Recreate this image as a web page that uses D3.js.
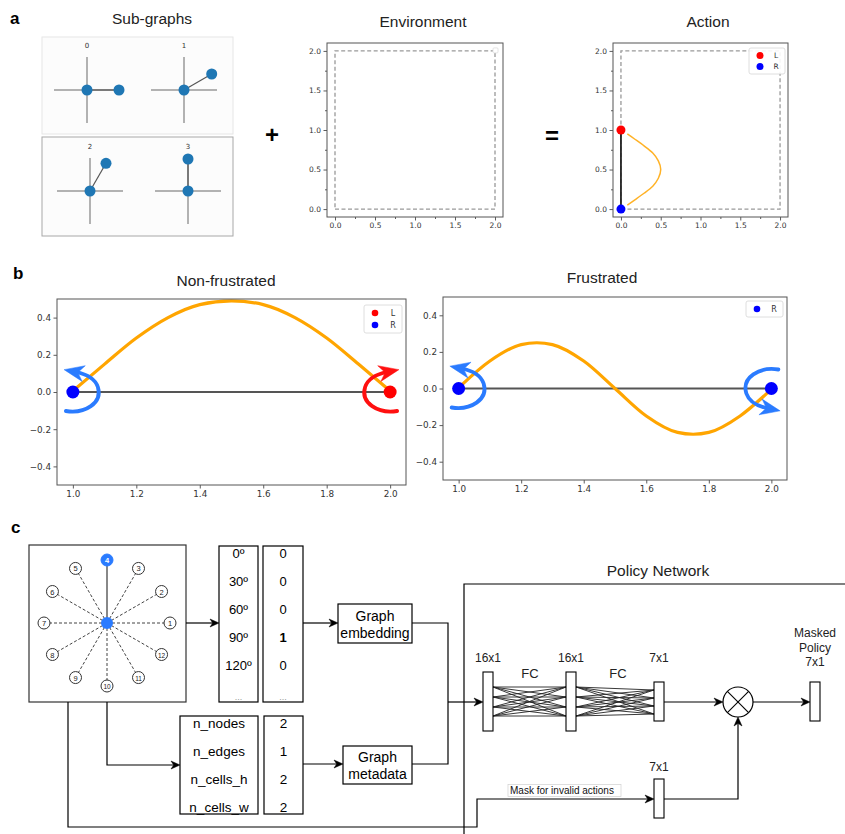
<!DOCTYPE html>
<html><head><meta charset="utf-8">
<script src="https://cdn.jsdelivr.net/npm/d3@7"></script>
<style>body{margin:0;background:#fff}svg{display:block}</style>
</head><body><svg id="fig" width="845" height="834"></svg>
<script>
// ---------------- DATA ----------------
// panel a
const subgraphIds = ["0", "1", "2", "3"];
const subgraphAngles = [0, 30, 60, 90];          // direction of the second node (deg)
const gridTicks = [0, 0.5, 1.0, 1.5, 2.0];
const gridMinorTicks = [0.25, 0.75, 1.25, 1.75];
const envBoundX = [0, 2, 2, 0, 0];
const envBoundY = [0, 0, 2, 2, 0];
const actionEdgeX = [0, 0];
const actionEdgeY = [0, 1];
const actionNodeLabels = ["L", "R"];
const actionNodeX = [0, 0];
const actionNodeY = [1, 0];
const actionCurveX = [0.08, 0.18, 0.29, 0.40, 0.47, 0.50, 0.47, 0.40, 0.29, 0.18, 0.08];
const actionCurveY = [0.95, 0.88, 0.80, 0.71, 0.61, 0.50, 0.39, 0.29, 0.20, 0.12, 0.05];
// panel b
const bTicksX = [1.0, 1.2, 1.4, 1.6, 1.8, 2.0];
const bTicksY = [-0.4, -0.2, 0.0, 0.2, 0.4];
const bEdgeX = [1, 2];
const bEdgeY = [0, 0];
const nfCurveX = [1.01, 1.1, 1.2, 1.3, 1.4, 1.5, 1.6, 1.7, 1.8, 1.9, 1.99];
const nfCurveY = [0.02, 0.15, 0.29, 0.40, 0.47, 0.49, 0.47, 0.40, 0.29, 0.15, 0.02];
const nfNodeLabels = ["R", "L"];
const nfNodeX = [1, 2];
const frCurveX = [1.01, 1.1, 1.2, 1.25, 1.3, 1.4, 1.5, 1.6, 1.7, 1.75, 1.8, 1.9, 1.99];
const frCurveY = [0.02, 0.15, 0.24, 0.25, 0.24, 0.15, 0.0, -0.15, -0.24, -0.25, -0.24, -0.15, -0.02];
const frNodeLabels = ["R", "R"];
const frNodeX = [1, 2];
// panel c
const dialLabels = ["1","2","3","4","5","6","7","8","9","10","11","12"];
const dialAngles = [0, 30, 60, 90, 120, 150, 180, 210, 240, 270, 300, 330];
const activeDial = "4";
const angleLabels = ["0º", "30º", "60º", "90º", "120º", "..."];
const angleValues = ["0", "0", "0", "1", "0", "..."];
const metaLabels = ["n_nodes", "n_edges", "n_cells_h", "n_cells_w"];
const metaValues = ["2", "1", "2", "2"];
const layerNames = ["16x1", "16x1", "7x1"];

// ---------------- HELPERS ----------------
const svg = d3.select("#fig");
svg.append("rect").attr("width", 845).attr("height", 834).attr("fill", "#fff");
const SANS = "'Liberation Sans', Arial, sans-serif";
const MPL = "'DejaVu Sans', sans-serif";
const colorOf = {L: "#ff0000", R: "#0000ff"};

function txt(g, x, y, s, o = {}) {
  return g.append("text").attr("x", x).attr("y", y).text(s)
    .attr("font-family", o.family || SANS).attr("font-size", o.size || 13)
    .attr("font-weight", o.weight || "normal").attr("fill", o.fill || "#000")
    .attr("text-anchor", o.anchor || "middle")
    .attr("dominant-baseline", o.baseline || "auto");
}

function mplAxes(box, xdom, ydom, xt, yt, fs, minor) {
  const g = svg.append("g");
  const x = d3.scaleLinear().domain(xdom).range([box.x0, box.x1]);
  const y = d3.scaleLinear().domain(ydom).range([box.y1, box.y0]);
  g.append("rect").attr("x", box.x0).attr("y", box.y0)
    .attr("width", box.x1 - box.x0).attr("height", box.y1 - box.y0).attr("fill", "#fff");
  const fmt = d3.format(".1f");
  const style = a => {
    a.select(".domain").remove();
    a.attr("font-family", MPL).attr("font-size", fs);
    a.selectAll("text").attr("fill", "#333");
    a.selectAll("line").attr("stroke", "#333").attr("stroke-width", 0.8);
  };
  g.append("g").attr("transform", `translate(0,${box.y1})`)
    .call(d3.axisBottom(x).tickValues(xt).tickFormat(fmt).tickSize(3.5).tickPadding(2.5)).call(style);
  g.append("g").attr("transform", `translate(${box.x0},0)`)
    .call(d3.axisLeft(y).tickValues(yt).tickFormat(fmt).tickSize(3.5).tickPadding(2.5)).call(style);
  if (minor) {
    g.append("g").attr("transform", `translate(0,${box.y1})`)
      .call(d3.axisBottom(x).tickValues(minor).tickFormat("").tickSize(2)).call(style);
    g.append("g").attr("transform", `translate(${box.x0},0)`)
      .call(d3.axisLeft(y).tickValues(minor).tickFormat("").tickSize(2)).call(style);
  }
  const content = g.append("g");
  const frame = () => g.append("rect").attr("x", box.x0).attr("y", box.y0)
    .attr("width", box.x1 - box.x0).attr("height", box.y1 - box.y0)
    .attr("fill", "none").attr("stroke", "#555").attr("stroke-width", 1);
  return {x, y, g: content, frame};
}

function legend(x0, y0, w, labels, fs, rowH, mr) {
  const g = svg.append("g");
  g.append("rect").attr("x", x0).attr("y", y0).attr("width", w)
    .attr("height", labels.length * rowH + 4).attr("rx", 2)
    .attr("fill", "#fff").attr("fill-opacity", 0.9).attr("stroke", "#d5d5d5").attr("stroke-width", 0.8);
  labels.forEach((l, i) => {
    const cy = y0 + 2 + rowH * (i + 0.5);
    g.append("circle").attr("cx", x0 + 11).attr("cy", cy).attr("r", mr).attr("fill", colorOf[l]);
    txt(g, x0 + w - 9, cy, l, {family: MPL, size: fs, fill: "#333", baseline: "central"});
  });
}

function arrowHead(g, tip, ux, uy, len, hw, color) {
  const bx = tip[0] - ux * len, by = tip[1] - uy * len;
  const nx = tip[0] - ux * len * 0.7, ny = tip[1] - uy * len * 0.7;
  g.append("polygon").attr("points", [
    [tip[0], tip[1]], [bx - uy * hw, by + ux * hw], [nx, ny], [bx + uy * hw, by - ux * hw]
  ].map(p => p.join(",")).join(" ")).attr("fill", color).attr("stroke", color).attr("stroke-width", 0.5);
}

function arrowLine(g, pts, head = true) {
  const n = pts.length;
  let line = pts;
  if (head) {
    const a = pts[n - 2], b = pts[n - 1];
    const L = Math.hypot(b[0] - a[0], b[1] - a[1]);
    const ux = (b[0] - a[0]) / L, uy = (b[1] - a[1]) / L;
    line = pts.slice(0, -1).concat([[b[0] - ux * 6, b[1] - uy * 6]]);
    arrowHead(g, b, ux, uy, 9, 4, "#000");
  }
  g.append("path").attr("d", d3.line()(line)).attr("fill", "none")
    .attr("stroke", "#000").attr("stroke-width", 1.2);
}

// curly rotation arrow around a node (pixel offsets, mirrored by sx, sy)
function curlyArrow(g, cx, cy, sx, sy, color) {
  const P = (dx, dy) => [cx + dx * sx, cy + dy * sy];
  const p0 = P(-7, 19), c1 = P(12, 22), c2 = P(30, 11), p1 = P(25, -5), c3 = P(22, -14), c4 = P(13, -18), p2 = P(3, -20);
  const path = d3.path();
  path.moveTo(...p0); path.bezierCurveTo(...c1, ...c2, ...p1); path.bezierCurveTo(...c3, ...c4, ...p2);
  g.append("path").attr("d", path.toString()).attr("fill", "none")
    .attr("stroke", color).attr("stroke-width", 3.8).attr("stroke-linecap", "round");
  let dx = (p2[0] - c4[0]), dy = (p2[1] - c4[1]);
  const L = Math.hypot(dx, dy); dx /= L; dy /= L;
  const tip = [p2[0] + dx * 12, p2[1] + dy * 12];
  arrowHead(g, tip, dx, dy, 20, 8, color);
}

// ---------------- PANEL a ----------------
txt(svg, 10, 24, "a", {size: 17, weight: "bold", anchor: "start"});
txt(svg, 152, 24, "Sub-graphs", {size: 15.5, fill: "#222"});
svg.append("rect").attr("x", 42).attr("y", 37).attr("width", 191).attr("height", 97)
  .attr("fill", "#fcfcfc").attr("stroke", "#e6e6e6").attr("stroke-width", 1);
svg.append("rect").attr("x", 42).attr("y", 137).attr("width", 191).attr("height", 99)
  .attr("fill", "#fcfcfc").attr("stroke", "#a8a8a8").attr("stroke-width", 1);
const subCenters = [[87, 90], [184, 90], [90, 191], [188, 191]];
const sg = svg.append("g");
subgraphIds.forEach((id, i) => {
  const [cx, cy] = subCenters[i];
  txt(sg, cx, cy - 42, id, {family: MPL, size: 7, fill: "#333"});
  sg.append("line").attr("x1", cx - 33).attr("x2", cx + 33).attr("y1", cy).attr("y2", cy)
    .attr("stroke", "#9a9a9a").attr("stroke-width", 1.5);
  sg.append("line").attr("x1", cx).attr("x2", cx).attr("y1", cy - 33).attr("y2", cy + 33)
    .attr("stroke", "#9a9a9a").attr("stroke-width", 1.5);
  const a = subgraphAngles[i] * Math.PI / 180;
  const nx = cx + 32 * Math.cos(a), ny = cy - 32 * Math.sin(a);
  sg.append("line").attr("x1", cx).attr("y1", cy).attr("x2", nx).attr("y2", ny)
    .attr("stroke", "#555").attr("stroke-width", 1.2);
  sg.append("circle").attr("cx", cx).attr("cy", cy).attr("r", 5.5).attr("fill", "#1f77b4");
  sg.append("circle").attr("cx", nx).attr("cy", ny).attr("r", 5.5).attr("fill", "#1f77b4");
});
txt(svg, 272, 143, "+", {size: 24, weight: "bold"});
txt(svg, 552, 144, "=", {size: 24, weight: "bold"});

// Environment
txt(svg, 423, 27, "Environment", {size: 15.5, fill: "#222"});
const env = mplAxes({x0: 327, x1: 503, y0: 43, y1: 217}, [-0.1, 2.1], [-0.1, 2.1], gridTicks, gridTicks, 7.5, gridMinorTicks);
env.g.append("path").attr("d", d3.line().x(d => env.x(d[0])).y(d => env.y(d[1]))(envBoundX.map((v, i) => [v, envBoundY[i]])))
  .attr("fill", "none").attr("stroke", "#999").attr("stroke-width", 1.3).attr("stroke-dasharray", "4,2.5");
env.g.append("rect").attr("x", env.x(2) - 2).attr("y", env.y(2) - 3).attr("width", 5).attr("height", 5)
  .attr("rx", 1).attr("fill", "#fff").attr("stroke", "#ddd").attr("stroke-width", 0.8);
env.frame();

// Action
txt(svg, 708, 27, "Action", {size: 15.5, fill: "#222"});
const act = mplAxes({x0: 613, x1: 788, y0: 43, y1: 217}, [-0.1, 2.1], [-0.1, 2.1], gridTicks, gridTicks, 7.5, gridMinorTicks);
act.g.append("path").attr("d", d3.line().x(d => act.x(d[0])).y(d => act.y(d[1]))(envBoundX.map((v, i) => [v, envBoundY[i]])))
  .attr("fill", "none").attr("stroke", "#999").attr("stroke-width", 1.3).attr("stroke-dasharray", "4,2.5");
act.g.append("path").attr("d", d3.line().x(d => act.x(d[0])).y(d => act.y(d[1]))(actionEdgeX.map((v, i) => [v, actionEdgeY[i]])))
  .attr("stroke", "#222").attr("stroke-width", 1.8);
act.g.append("path").attr("d", d3.line().curve(d3.curveMonotoneY).x(d => act.x(d[0])).y(d => act.y(d[1]))(actionCurveX.map((v, i) => [v, actionCurveY[i]])))
  .attr("fill", "none").attr("stroke", "#ffa500").attr("stroke-opacity", 0.85).attr("stroke-width", 1.5);
actionNodeLabels.forEach((l, i) => {
  act.g.append("circle").attr("cx", act.x(actionNodeX[i])).attr("cy", act.y(actionNodeY[i])).attr("r", 4.5).attr("fill", colorOf[l]);
});
act.frame();
legend(749, 48, 36, actionNodeLabels, 7.5, 11, 3.5);

// ---------------- PANEL b ----------------
txt(svg, 13, 279, "b", {size: 17, weight: "bold", anchor: "start"});
txt(svg, 226, 286, "Non-frustrated", {size: 15.5, fill: "#222"});
txt(svg, 602, 283, "Frustrated", {size: 15.5, fill: "#222"});

function bPanel(box, cx, cy, nodeLabels, nodeX, arrows, legLabels, legBox) {
  const ax = mplAxes(box, [0.95, 2.05], [-0.5, 0.5], bTicksX, bTicksY, 8.8, null);
  ax.g.append("path").attr("d", d3.line().x(d => ax.x(d[0])).y(d => ax.y(d[1]))(bEdgeX.map((v, i) => [v, bEdgeY[i]])))
    .attr("stroke", "#555").attr("stroke-width", 2);
  ax.g.append("path").attr("d", d3.line().curve(d3.curveMonotoneX).x(d => ax.x(d[0])).y(d => ax.y(d[1]))(cx.map((v, i) => [v, cy[i]])))
    .attr("fill", "none").attr("stroke", "#ffa500").attr("stroke-width", 3.2);
  nodeLabels.forEach((l, i) => {
    ax.g.append("circle").attr("cx", ax.x(nodeX[i])).attr("cy", ax.y(0)).attr("r", 6.5).attr("fill", colorOf[l]);
  });
  arrows.forEach(a => curlyArrow(ax.g, ax.x(nodeX[a.i]), ax.y(0), a.sx, a.sy, a.color));
  ax.frame();
  legend(legBox[0], legBox[1], legBox[2], legLabels, 8, 12, 3.3);
}
bPanel({x0: 57, x1: 406, y0: 299, y1: 485}, nfCurveX, nfCurveY, nfNodeLabels, nfNodeX,
  [{i: 0, sx: 1, sy: 1, color: "#2a7bff"}, {i: 1, sx: -1, sy: 1, color: "#ff1010"}],
  ["L", "R"], [364, 305, 38]);
bPanel({x0: 443, x1: 787, y0: 297, y1: 480}, frCurveX, frCurveY, frNodeLabels, frNodeX,
  [{i: 0, sx: 1, sy: 1, color: "#2a7bff"}, {i: 1, sx: -1, sy: -1, color: "#2a7bff"}],
  ["R"], [746, 301, 37]);

// ---------------- PANEL c ----------------
txt(svg, 11, 533, "c", {size: 17, weight: "bold", anchor: "start"});
const cg = svg.append("g");
// dial box
cg.append("rect").attr("x", 29).attr("y", 545).attr("width", 157).attr("height", 157)
  .attr("fill", "#fff").attr("stroke", "#333").attr("stroke-width", 1.2);
const dcx = 107, dcy = 623, dr = 63;
const dialScale = d3.scaleLinear().domain([0, 360]).range([0, 2 * Math.PI]);
dialLabels.forEach((l, i) => {
  const a = dialScale(dialAngles[i]);
  const nx = dcx + dr * Math.cos(a), ny = dcy - dr * Math.sin(a);
  const on = l === activeDial;
  cg.append("line").attr("x1", dcx).attr("y1", dcy).attr("x2", nx).attr("y2", ny)
    .attr("stroke", on ? "#888" : "#444").attr("stroke-width", on ? 2 : 1)
    .attr("stroke-dasharray", on ? null : "3,2");
});
dialLabels.forEach((l, i) => {
  const a = dialScale(dialAngles[i]);
  const nx = dcx + dr * Math.cos(a), ny = dcy - dr * Math.sin(a);
  const on = l === activeDial;
  cg.append("circle").attr("cx", nx).attr("cy", ny).attr("r", 6)
    .attr("fill", on ? "#2a7bff" : "#fff").attr("stroke", on ? "#2a7bff" : "#333").attr("stroke-width", 1);
  txt(cg, nx, ny + 0.5, l, {size: l.length > 1 ? 6.5 : 7.5, fill: on ? "#fff" : "#222", baseline: "central", weight: on ? "bold" : "normal"});
});
cg.append("circle").attr("cx", dcx).attr("cy", dcy).attr("r", 6).attr("fill", "#2a7bff");

// angle tables
const rowY = d3.scalePoint().domain(d3.range(angleLabels.length)).range([553, 693]);
cg.append("rect").attr("x", 219).attr("y", 546).attr("width", 39).attr("height", 156).attr("fill", "#fff").attr("stroke", "#000").attr("stroke-width", 1.2);
cg.append("rect").attr("x", 263).attr("y", 546).attr("width", 40).attr("height", 156).attr("fill", "#fff").attr("stroke", "#000").attr("stroke-width", 1.2);
angleLabels.forEach((l, i) => {
  const dots = l === "...";
  txt(cg, 238.5, rowY(i) + (dots ? 4 : 0), l, {size: dots ? 9 : 13, baseline: "central", fill: dots ? "#999" : "#000"});
  txt(cg, 283, rowY(i) + (dots ? 4 : 0), angleValues[i], {size: dots ? 9 : 13, baseline: "central", fill: dots ? "#999" : "#000", weight: angleValues[i] === "1" ? "bold" : "normal"});
});
// metadata tables
const metaY = d3.scalePoint().domain(d3.range(metaLabels.length)).range([723, 807]);
cg.append("rect").attr("x", 180).attr("y", 716).attr("width", 78).attr("height", 98).attr("fill", "#fff").attr("stroke", "#000").attr("stroke-width", 1.2);
cg.append("rect").attr("x", 264).attr("y", 716).attr("width", 39).attr("height", 98).attr("fill", "#fff").attr("stroke", "#000").attr("stroke-width", 1.2);
metaLabels.forEach((l, i) => {
  txt(cg, 219, metaY(i), l, {size: 13.5, baseline: "central"});
  txt(cg, 283.5, metaY(i), metaValues[i], {size: 13.5, baseline: "central"});
});
// graph boxes
cg.append("rect").attr("x", 338).attr("y", 604).attr("width", 74).attr("height", 39).attr("fill", "#fff").attr("stroke", "#000").attr("stroke-width", 1.2);
txt(cg, 375, 621, "Graph", {size: 14});
txt(cg, 375, 638, "embedding", {size: 14});
cg.append("rect").attr("x", 343).attr("y", 746).attr("width", 69).attr("height", 38).attr("fill", "#fff").attr("stroke", "#000").attr("stroke-width", 1.2);
txt(cg, 377.5, 762, "Graph", {size: 14});
txt(cg, 377.5, 779, "metadata", {size: 14});

// connectors
arrowLine(cg, [[186, 623], [219, 623]]);
arrowLine(cg, [[303, 623], [338, 623]]);
arrowLine(cg, [[412, 623], [448, 623], [448, 764], [412, 764]], false);
arrowLine(cg, [[448, 702], [483, 702]]);
arrowLine(cg, [[107, 702], [107, 765], [180, 765]]);
arrowLine(cg, [[303, 764], [343, 764]]);
arrowLine(cg, [[68, 702], [68, 827], [477, 827], [477, 799], [654, 799]]);

// policy network
cg.append("path").attr("d", d3.line()([[845, 584], [464, 584], [464, 834]])).attr("fill", "none").attr("stroke", "#000").attr("stroke-width", 1.2);
txt(cg, 658, 576, "Policy Network", {size: 15.5, fill: "#222"});
const layers = [
  {x: 483, y0: 672, y1: 731}, {x: 566, y0: 672, y1: 731}, {x: 654, y0: 682, y1: 721}
];
// FC connections
const fcL = [687, 697, 707, 716];
const fcR2 = [690, 698, 706, 714];
fcL.forEach(a => fcL.forEach(b => {
  cg.append("line").attr("x1", 493).attr("y1", a).attr("x2", 566).attr("y2", b).attr("stroke", "#222").attr("stroke-width", 0.9);
}));
fcL.forEach(a => fcR2.forEach(b => {
  cg.append("line").attr("x1", 576).attr("y1", a).attr("x2", 654).attr("y2", b).attr("stroke", "#222").attr("stroke-width", 0.9);
}));
layers.forEach((L, i) => {
  cg.append("rect").attr("x", L.x).attr("y", L.y0).attr("width", 10).attr("height", L.y1 - L.y0)
    .attr("fill", "#fff").attr("stroke", "#000").attr("stroke-width", 1.1);
  txt(cg, L.x + 5, 662, layerNames[i], {size: 12, fill: "#222"});
});
txt(cg, 530, 678, "FC", {size: 13, fill: "#222"});
txt(cg, 618, 678, "FC", {size: 13, fill: "#222"});
// multiply node
const mx = 738, my = 702, mr = 15;
arrowLine(cg, [[664, 702], [723, 702]]);
cg.append("circle").attr("cx", mx).attr("cy", my).attr("r", mr).attr("fill", "#fff").attr("stroke", "#000").attr("stroke-width", 1.2);
const k = mr * Math.SQRT1_2;
cg.append("line").attr("x1", mx - k).attr("y1", my - k).attr("x2", mx + k).attr("y2", my + k).attr("stroke", "#000").attr("stroke-width", 1.1);
cg.append("line").attr("x1", mx - k).attr("y1", my + k).attr("x2", mx + k).attr("y2", my - k).attr("stroke", "#000").attr("stroke-width", 1.1);
arrowLine(cg, [[753, 702], [810, 702]]);
cg.append("rect").attr("x", 810).attr("y", 682).attr("width", 10).attr("height", 39).attr("fill", "#fff").attr("stroke", "#000").attr("stroke-width", 1.1);
txt(cg, 815, 637, "Masked", {size: 12, fill: "#222"});
txt(cg, 815, 652, "Policy", {size: 12, fill: "#222"});
txt(cg, 815, 666, layerNames[2], {size: 12, fill: "#222"});
// mask layer
cg.append("rect").attr("x", 654).attr("y", 779).attr("width", 10).attr("height", 39).attr("fill", "#fff").attr("stroke", "#000").attr("stroke-width", 1.1);
txt(cg, 659, 771, layerNames[2], {size: 12, fill: "#222"});
arrowLine(cg, [[664, 799], [738, 799], [738, 717]]);
cg.append("rect").attr("x", 508).attr("y", 784.5).attr("width", 113).attr("height", 12).attr("fill", "#fff").attr("stroke", "#d0d0d0").attr("stroke-width", 0.7);
txt(cg, 510, 794, "Mask for invalid actions", {size: 10, anchor: "start", fill: "#111"});
</script>
</body></html>
